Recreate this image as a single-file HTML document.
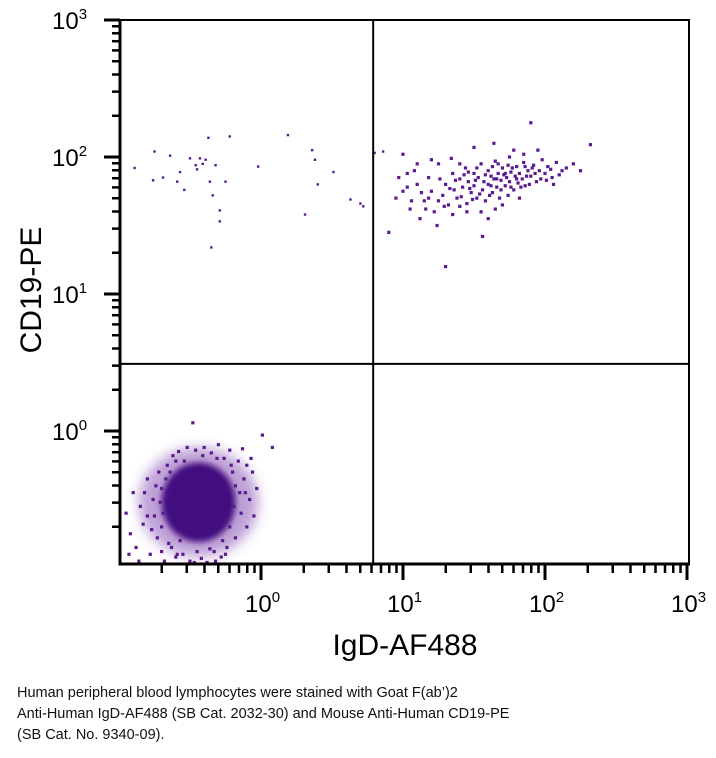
<!DOCTYPE html>
<html><head><meta charset="utf-8"><style>
body{margin:0;background:#fff;width:716px;height:758px;overflow:hidden;font-family:"Liberation Sans",sans-serif}
svg text{font-family:"Liberation Sans","DejaVu Sans",sans-serif}
.cap{position:absolute;left:17px;top:683px;font-size:14.5px;line-height:21px;color:#111}
</style></head><body>
<svg id="chart" width="716" height="680" style="position:absolute;left:0;top:0">
<g id="marks"></g>
<g id="axes"></g>
<text x="405" y="655" text-anchor="middle" font-size="30">IgD-AF488</text>
<text transform="translate(41,290) rotate(-90)" text-anchor="middle" font-size="30">CD19-PE</text>
</svg>
<div class="cap">Human peripheral blood lymphocytes were stained with Goat F(ab’)2<br>Anti-Human IgD-AF488 (SB Cat. 2032-30) and Mouse Anti-Human CD19-PE<br>(SB Cat. No. 9340-09).</div>
<script>
// data in log10 units
const xDomainLog = [-0.99, 3];
const yDomainLog = [-0.97, 3];
const quadrantGateLog = [0.79, 0.49];
const decadeTicks = [0, 1, 2, 3];
const coreCenterLog = [-0.44, -0.52];
const coreSpreadLog = [0.26, 0.29];
const haloSpreadLog = [0.42, 0.40];
const upperLeftPts = [[-0.89,1.92],[-0.75,2.04],[-0.76,1.83],[-0.69,1.85],[-0.64,2.01],[-0.59,1.82],[-0.54,1.76],[-0.46,1.94],[-0.43,1.99],[-0.45,1.91],[-0.39,1.98],[-0.36,1.82],[-0.34,1.72],[-0.32,1.94],[-0.29,1.61],[-0.29,1.53],[-0.35,1.34],[-0.22,2.15],[-0.37,2.14],[-0.02,1.93],[0.19,2.16],[0.36,2.05],[0.38,1.98],[0.40,1.80],[0.31,1.58],[0.51,1.89],[0.63,1.69],[0.70,1.66],[0.72,1.64],[0.80,2.03],[0.86,2.04],[-0.57,1.89],[-0.25,1.82],[-0.50,1.99],[-0.41,1.95]];
const upperRightPts = [[1.0,1.75],[0.95,1.70],[1.05,1.62],[1.1,1.80],[1.12,1.55],[1.08,1.90],[1.15,1.68],[1.2,1.75],[1.18,1.85],[1.22,1.60],[1.25,1.95],[1.28,1.72],[1.3,1.80],[1.32,1.65],[1.35,1.88],[1.36,1.76],[1.38,1.70],[1.4,1.84],[1.42,1.78],[1.44,1.92],[1.45,1.66],[1.46,1.82],[1.48,1.74],[1.5,1.88],[1.5,1.79],[1.52,1.70],[1.53,1.85],[1.55,1.95],[1.56,1.76],[1.57,1.82],[1.58,1.68],[1.6,1.90],[1.6,1.80],[1.62,1.86],[1.63,1.74],[1.64,1.84],[1.65,1.97],[1.66,1.78],[1.67,1.88],[1.68,1.70],[1.69,1.83],[1.7,1.92],[1.71,1.87],[1.72,1.79],[1.73,1.85],[1.74,1.94],[1.75,1.82],[1.76,1.89],[1.78,1.76],[1.79,1.86],[1.8,1.93],[1.81,1.81],[1.82,1.88],[1.84,1.84],[1.85,1.96],[1.86,1.79],[1.88,1.90],[1.9,1.86],[1.92,1.94],[1.94,1.82],[1.96,1.90],[1.98,1.98],[2.0,1.88],[2.02,1.93],[2.05,1.85],[2.08,1.96],[2.12,1.90],[2.2,1.95],[2.32,2.09],[1.95,2.05],[1.78,2.05],[1.64,2.10],[1.5,2.07],[1.9,2.25],[1.0,2.02],[1.24,1.50],[1.6,1.55],[1.56,1.42],[0.9,1.45],[1.3,1.20],[1.45,1.60],[1.7,1.65],[1.2,1.98],[1.34,1.99],[1.75,2.0],[1.85,2.02],[0.97,1.85],[1.03,1.78],[1.06,1.68],[1.13,1.74],[1.16,1.62],[1.26,1.84],[1.29,1.64],[1.33,1.77],[1.37,1.83],[1.41,1.71],[1.43,1.87],[1.47,1.77],[1.49,1.69],[1.51,1.83],[1.54,1.73],[1.58,1.87],[1.61,1.72],[1.63,1.93],[1.66,1.84],[1.69,1.76],[1.72,1.88],[1.74,1.72],[1.77,1.92],[1.8,1.84],[1.83,1.78],[1.87,1.86],[1.89,1.80],[1.93,1.88],[1.97,1.84],[2.01,1.83],[2.04,1.91],[2.1,1.87],[2.15,1.92],[2.25,1.90],[1.4,1.95],[1.55,1.60],[1.65,1.62],[1.82,1.70],[1.35,1.58],[1.1,1.95],[1.25,1.68],[1.46,1.89],[1.62,1.79],[1.76,1.78],[1.91,1.92],[2.06,1.80],[1.52,1.92],[1.67,1.95],[1.86,1.93],[1.4,1.64],[1.18,1.70],[1.03,1.88]];
const lowerPts = [[-0.95,-0.6],[-0.92,-0.75],[-0.9,-0.45],[-0.88,-0.85],[-0.85,-0.55],[-0.83,-0.68],[-0.8,-0.35],[-0.78,-0.9],[-0.76,-0.5],[-0.75,-0.62],[-0.73,-0.78],[-0.72,-0.3],[-0.7,-0.42],[-0.7,-0.88],[-0.68,-0.95],[-0.66,-0.25],[-0.65,-0.82],[-0.62,-0.18],[-0.6,-0.92],[-0.58,-0.15],[-0.55,-0.9],[-0.52,-0.12],[-0.5,-0.95],[-0.48,0.06],[-0.46,-0.14],[-0.42,-0.93],[-0.4,-0.12],[-0.38,-0.96],[-0.35,-0.16],[-0.33,-0.88],[-0.3,-0.1],[-0.28,-0.92],[-0.26,-0.2],[-0.24,-0.85],[-0.22,-0.14],[-0.2,-0.3],[-0.18,-0.78],[-0.16,-0.22],[-0.15,-0.45],[-0.14,-0.6],[-0.13,-0.13],[-0.12,-0.35],[-0.1,-0.25],[-0.1,-0.7],[-0.08,-0.5],[-0.06,-0.3],[-0.05,-0.62],[0.01,-0.03],[0.08,-0.12],[-0.03,-0.42],[-0.86,-0.95],[-0.93,-0.9],[-0.8,-0.62],[-0.82,-0.45],[-0.77,-0.72],[-0.74,-0.4],[-0.69,-0.6],[-0.67,-0.35],[-0.63,-0.85],[-0.6,-0.22],[-0.57,-0.8],[-0.45,-0.88],[-0.36,-0.86],[-0.27,-0.8],[-0.22,-0.7],[-0.19,-0.55],[-0.18,-0.4],[-0.21,-0.25],[-0.31,-0.2],[-0.41,-0.18],[-0.54,-0.22],[-0.64,-0.3],[-0.71,-0.52],[-0.7,-0.7],[-0.59,-0.9],[-0.47,-0.96],[-0.32,-0.95],[-0.25,-0.9],[-0.11,-0.45],[-0.07,-0.2]];

const L=120,R=689,T=20,B=564;
const sx=v=>261+142*v, sy=v=>431-137*v;
const NS='http://www.w3.org/2000/svg';
function mk(tag,attrs,parent){const e=document.createElementNS(NS,tag);for(const k in attrs)e.setAttribute(k,attrs[k]);parent.appendChild(e);return e;}
const marks=document.getElementById('marks'), axes=document.getElementById('axes');
const defs=mk('defs',{},marks);
const clip=mk('clipPath',{id:'pc'},defs);mk('rect',{x:L,y:T,width:R-L,height:B-T},clip);
const f1=mk('filter',{id:'blur1',x:'-50%',y:'-50%',width:'200%',height:'200%'},defs);mk('feGaussianBlur',{stdDeviation:6},f1);
const f2=mk('filter',{id:'blur2',x:'-50%',y:'-50%',width:'200%',height:'200%'},defs);mk('feGaussianBlur',{stdDeviation:3},f2);
const g=mk('g',{'clip-path':'url(#pc)'},marks);
const halo=mk('ellipse',{cx:sx(coreCenterLog[0]),cy:sy(coreCenterLog[1]),rx:142*haloSpreadLog[0],ry:137*haloSpreadLog[1],fill:'#7b3fae','fill-opacity':0.5,filter:'url(#blur1)'},g);


const core=mk('ellipse',{cx:sx(coreCenterLog[0]),cy:sy(coreCenterLog[1]),rx:142*coreSpreadLog[0],ry:137*coreSpreadLog[1],fill:'#42107f',filter:'url(#blur2)'},g);


function drawPts(arr,name,size,col){arr.forEach(p=>{const r=mk('rect',{x:sx(p[0])-size/2,y:sy(p[1])-size/2,width:size,height:size,fill:col},g);

});}
drawPts(upperLeftPts,'event-point-upper-left',2.4,'#5b1a8e');
drawPts(upperRightPts,'event-point-upper-right',3.2,'#5b1a8e');
drawPts(lowerPts,'event-point-lower-left',3.2,'#5b1a8e');
const ln=(x1,y1,x2,y2,w,name)=>{const l=mk('line',{x1,y1,x2,y2,stroke:'#000','stroke-width':w},axes);

};
ln(L,T-1,L,B+1.5,3,'y-axis-line');ln(L-1.5,B,R+1,B,3,'x-axis-line');
ln(L-16,T,R+1,T,2,'top-border');ln(R,T,R,B,2,'right-border');
const gx=sx(quadrantGateLog[0]),gy=sy(quadrantGateLog[1]);
ln(gx,T,gx,B,2,'quadrant-gate-vertical');ln(L,gy,R,gy,2,'quadrant-gate-horizontal');
for(let d=-1;d<3;d++){for(let m=1;m<10;m++){const v=d+Math.log10(m);
if(v>=xDomainLog[0]&&m>1)ln(sx(v),B,sx(v),B+9,2.5,'x-minor-tick');
if(v>=yDomainLog[0]&&m>1)ln(L-8,sy(v),L,sy(v),2.5,'y-minor-tick');}}
decadeTicks.forEach(d=>{ln(sx(d),B,sx(d),B+16,3,'x-major-tick');ln(L-16,sy(d),L,sy(d),3,'y-major-tick');
const tx=mk('text',{x:sx(d)-16,y:612,'font-size':24},axes);tx.innerHTML='10<tspan dy="-10" font-size="15">'+d+'</tspan>';


const ty=mk('text',{x:52,y:sy(d)+9,'font-size':24},axes);ty.innerHTML='10<tspan dy="-10" font-size="15">'+d+'</tspan>';

});
</script>
</body></html>
